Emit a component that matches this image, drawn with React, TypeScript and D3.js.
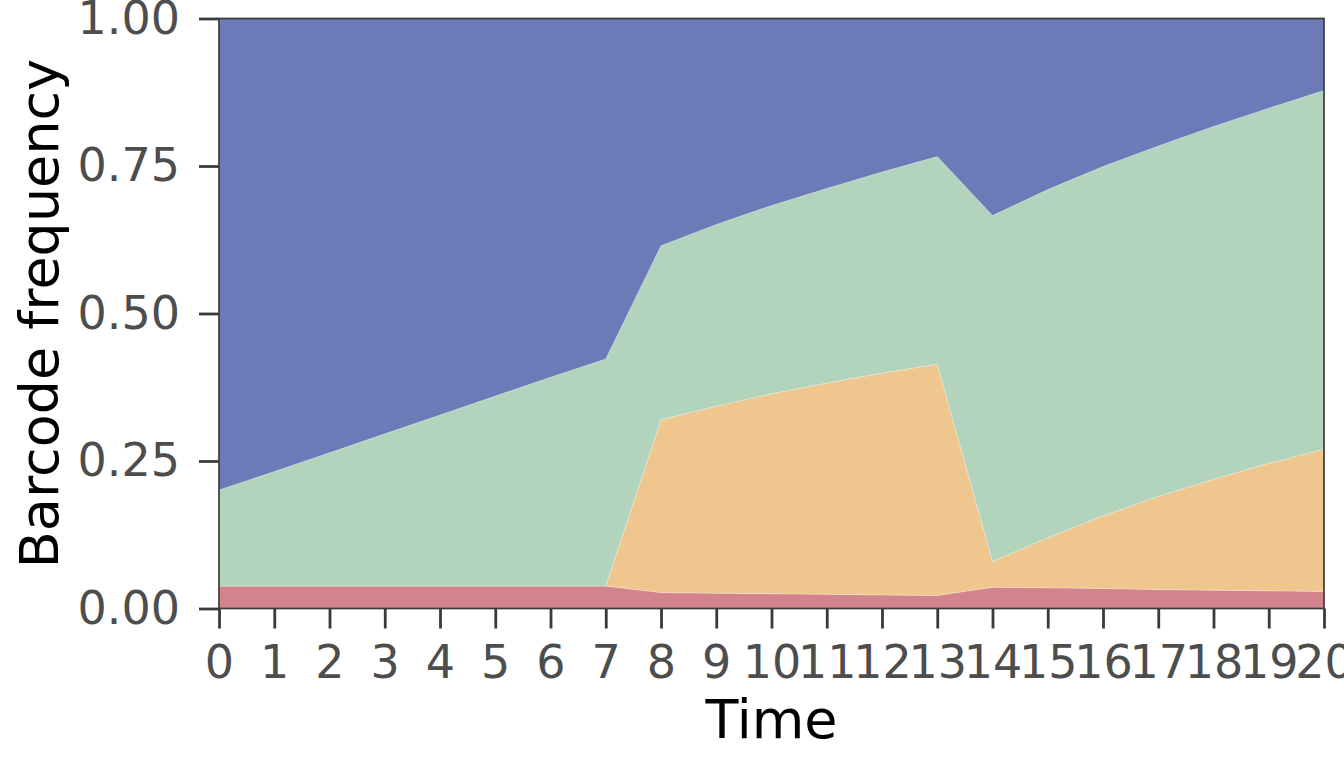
import React, { useEffect, useRef } from 'react';
import * as d3 from 'd3';

// time points 0..20
const timePoints = [0, 1, 2, 3, 4, 5, 6, 7, 8, 9, 10, 11, 12, 13, 14, 15, 16, 17, 18, 19, 20];

// barcode frequencies per time point (bottom to top of the stack)
const redBarcode = [0.038, 0.038, 0.038, 0.038, 0.038, 0.038, 0.038, 0.038, 0.027, 0.026, 0.025, 0.024, 0.023, 0.022, 0.036, 0.035, 0.034, 0.032, 0.031, 0.030, 0.029];
const orangeBarcode = [0, 0, 0, 0, 0, 0, 0, 0, 0.293, 0.317, 0.339, 0.358, 0.376, 0.392, 0.044, 0.085, 0.123, 0.158, 0.188, 0.216, 0.241];
const greenBarcode = [0.163, 0.194, 0.226, 0.258, 0.290, 0.322, 0.354, 0.385, 0.295, 0.308, 0.319, 0.330, 0.341, 0.352, 0.586, 0.590, 0.592, 0.594, 0.598, 0.602, 0.608];
const blueBarcode = [0.799, 0.768, 0.736, 0.704, 0.672, 0.640, 0.608, 0.577, 0.385, 0.349, 0.317, 0.288, 0.260, 0.234, 0.334, 0.290, 0.251, 0.216, 0.183, 0.152, 0.122];

const seriesKeys = ['red', 'orange', 'green', 'blue'];
const seriesColors = ['#d3838b', '#f0c68f', '#b2d4bc', '#6c7bb7'];

const yTicks = [0, 0.25, 0.5, 0.75, 1];

const WIDTH = 1344;
const HEIGHT = 768;

const App: React.FC = () => {
  const svgRef = useRef<SVGSVGElement>(null);

  useEffect(() => {
    if (!svgRef.current) return;

    const margin = { top: 18.5, right: 20, bottom: 159.5, left: 219 };
    const innerWidth = WIDTH - margin.left - margin.right;
    const innerHeight = HEIGHT - margin.top - margin.bottom;

    const svg = d3.select(svgRef.current);
    svg.selectAll('*').remove();

    const g = svg.append('g')
      .attr('transform', `translate(${margin.left},${margin.top})`);

    // build table for the stack
    const table = timePoints.map((t, i) => ({
      time: t,
      red: redBarcode[i],
      orange: orangeBarcode[i],
      green: greenBarcode[i],
      blue: blueBarcode[i]
    }));

    const xScale = d3.scaleLinear().domain([0, 20]).range([0, innerWidth]);
    const yScale = d3.scaleLinear().domain([0, 1]).range([innerHeight, 0]);

    const stacked = d3.stack<any>().keys(seriesKeys)(table);

    const area = d3.area<any>()
      .x(d => xScale(d.data.time))
      .y0(d => yScale(d[0]))
      .y1(d => yScale(d[1]));

    g.selectAll('.layer')
      .data(stacked)
      .enter()
      .append('path')
      .attr('class', 'layer')
      .attr('d', d => area(d as any) || '')
      .attr('fill', (_, i) => seriesColors[i])
      .attr('stroke', '#ffffff')
      .attr('stroke-opacity', 0.45)
      .attr('stroke-width', 0.5);

    // frame
    g.append('rect')
      .attr('x', 0)
      .attr('y', 0)
      .attr('width', innerWidth)
      .attr('height', innerHeight)
      .attr('fill', 'none')
      .attr('stroke', '#3a3a3a')
      .attr('stroke-width', 1.7);

    // x axis
    const xAxis = d3.axisBottom(xScale)
      .tickValues(timePoints)
      .tickFormat(d => `${d}`)
      .tickSize(20)
      .tickPadding(17);

    const xg = g.append('g')
      .attr('transform', `translate(0,${innerHeight})`)
      .call(xAxis);
    xg.select('.domain').remove();
    xg.selectAll('.tick line')
      .attr('stroke', '#3a3a3a')
      .attr('stroke-width', 2.8);
    xg.selectAll('.tick text')
      .style('font-family', '"DejaVu Sans", sans-serif')
      .style('font-size', '46px')
      .attr('fill', '#4d4d4d');

    // y axis
    const yAxis = d3.axisLeft(yScale)
      .tickValues(yTicks)
      .tickFormat(d3.format('.2f'))
      .tickSize(20)
      .tickPadding(19);

    const yg = g.append('g').call(yAxis);
    yg.select('.domain').remove();
    yg.selectAll('.tick line')
      .attr('stroke', '#3a3a3a')
      .attr('stroke-width', 2.8);
    yg.selectAll('.tick text')
      .style('font-family', '"DejaVu Sans", sans-serif')
      .style('font-size', '46px')
      .attr('fill', '#4d4d4d');

    // axis titles
    svg.append('text')
      .attr('x', margin.left + innerWidth / 2)
      .attr('y', 738)
      .attr('text-anchor', 'middle')
      .style('font-family', '"DejaVu Sans", sans-serif')
      .style('font-size', '54px')
      .attr('fill', '#000')
      .text('Time');

    svg.append('text')
      .attr('transform', `translate(58,${margin.top + innerHeight / 2}) rotate(-90)`)
      .attr('text-anchor', 'middle')
      .style('font-family', '"DejaVu Sans", sans-serif')
      .style('font-size', '54px')
      .attr('fill', '#000')
      .text('Barcode frequency');
  }, []);

  return (
    <div style={{ position: 'fixed', left: 0, top: 0, width: WIDTH, height: HEIGHT, overflow: 'hidden', background: '#fff' }}>
      <svg ref={svgRef} width={WIDTH} height={HEIGHT} style={{ display: 'block' }} />
    </div>
  );
};

export default App;
